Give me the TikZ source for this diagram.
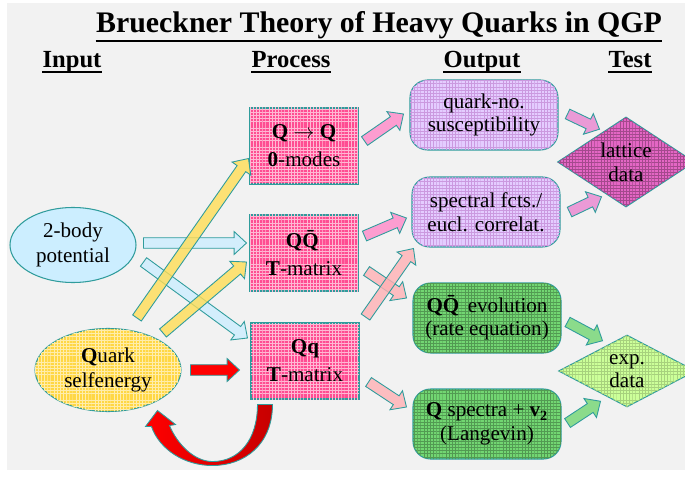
\documentclass[tikz,border=0pt]{standalone}
\usepackage{fontspec}
\setmainfont{Liberation Serif}
\usepackage{xcolor}
\usepackage{tikz}
\usetikzlibrary{shapes.geometric, calc, patterns}

\definecolor{paper}{HTML}{F2F2F2}
\definecolor{rimc}{HTML}{2F9C9C}
\definecolor{procpink}{HTML}{FF4D92}
\definecolor{lilac}{HTML}{E4CCFF}
\definecolor{grass}{HTML}{72D672}
\definecolor{latcol}{HTML}{E466C4}
\definecolor{limey}{HTML}{CCFF99}
\definecolor{sky}{HTML}{CCEEFF}
\definecolor{gold}{HTML}{FFD744}
\definecolor{salmon}{HTML}{FFB0B4}
\definecolor{rose}{HTML}{FF88C8}
\definecolor{sun}{HTML}{FFDD55}

% fine checkered texture of the filled shapes
\pgfdeclarepatternformonly{finegrid}{\pgfqpoint{-0.1pt}{-0.1pt}}{\pgfqpoint{1.9pt}{1.9pt}}{\pgfqpoint{1.8pt}{1.8pt}}{%
  \pgfsetlinewidth{0.3pt}
  \pgfpathmoveto{\pgfqpoint{0pt}{0pt}}\pgfpathlineto{\pgfqpoint{1.8pt}{0pt}}
  \pgfpathmoveto{\pgfqpoint{0pt}{0pt}}\pgfpathlineto{\pgfqpoint{0pt}{1.8pt}}
  \pgfusepath{stroke}}

\newcommand{\pxu}{0.02cm}
% block arrow from coordinate #2 to coordinate #3
\newcommand{\blockarrow}[3][]{%
  \coordinate (hb) at ($(#3)!7pt!(#2)$);
  \path[barrow,#1] ($(#2)!3pt!90:(#3)$) -- ($(hb)!3pt!90:(#3)$) -- ($(hb)!6.5pt!90:(#3)$) -- (#3)
    -- ($(hb)!6.5pt!-90:(#3)$) -- ($(hb)!3pt!-90:(#3)$) -- ($(#2)!3pt!-90:(#3)$) -- cycle;}

\begin{document}
\begin{tikzpicture}[
    x=\pxu, y=-\pxu,
    rim/.style={draw=rimc, line width=0.6pt},
    textured/.style={postaction={pattern=finegrid, pattern color=#1}},
    procbox/.style={rim, rectangle, fill=procpink, textured=procpink!40!white, minimum width=108*\pxu, minimum height=76*\pxu, align=center, inner sep=0pt, font=\fontsize{12}{16}\selectfont},
    outbox/.style={rim, rectangle, rounded corners=10pt, minimum width=148*\pxu, minimum height=70*\pxu, align=center, inner sep=0pt, font=\fontsize{12}{13.5}\selectfont},
    testdia/.style={rim, diamond, minimum width=137*\pxu, minimum height=72*\pxu, align=center, inner sep=0pt, font=\fontsize{12}{13.5}\selectfont},
    inell/.style={rim, ellipse, align=center, inner sep=0pt, font=\fontsize{12}{14}\selectfont},
    head/.style={font=\fontsize{14}{16}\bfseries\selectfont, inner sep=0pt, anchor=base},
    barrow/.style={draw=rimc, line width=0.5pt, fill opacity=0.8}
]
\useasboundingbox (0,0) rectangle (685,479);
\fill[white] (0,0) rectangle (685,479);
\fill[paper] (7,3) rectangle (685,470);

% title and column heads
\node[font=\fontsize{17}{20}\bfseries\selectfont, inner sep=0pt, anchor=base] (title) at (379,33) {Brueckner Theory of Heavy Quarks in QGP};
\draw[line width=1.6pt] ($(title.base west)+(0,8)$) -- ($(title.base east)+(0,8)$);
\foreach \hx/\hname/\htext in {72/hin/Input, 291/hproc/Process, 482/hout/Output, 630/htest/Test}{
  \node[head] (\hname) at (\hx,68) {\htext};
  \draw[line width=1.4pt] ($(\hname.base west)+(0,4)$) -- ($(\hname.base east)+(0,4)$);
}

% input
\node[inell, fill=sky, minimum width=126*\pxu, minimum height=75*\pxu] (pot) at (73,245) {2-body\\potential};
\node[inell, fill=gold, textured=gold!45!white, minimum width=146*\pxu, minimum height=83*\pxu] (qself) at (108,370) {\textbf{Q}uark\\selfenergy};

% process
\node[procbox] (zero) at (304,146) {\textbf{Q} $\rightarrow$ \textbf{Q}\\\textbf{0}-modes};
\node[procbox] (qqbar) at (304,253) {\textbf{Q\=Q}\\\textbf{T}-matrix};
\node[procbox] (qq) at (305,361) {\textbf{Qq}\\\textbf{T}-matrix};

% output
\node[outbox, fill=lilac, textured=violet!25!lilac] (qno) at (484,115) {quark-no.\\susceptibility};
\node[outbox, fill=lilac, textured=violet!25!lilac] (spec) at (486,212) {spectral fcts./\\eucl. correlat.};
\node[outbox, fill=grass, textured=grass!72!black] (evol) at (487,318) {\textbf{Q\=Q} evolution\\(rate equation)};
\node[outbox, fill=grass, textured=grass!72!black] (lgv) at (487,424) {\textbf{Q} spectra + \textbf{v\textsubscript{2}}\\(Langevin)};

% test
\node[testdia, fill=latcol, textured=latcol!72!black] (latt) at (626,162) {lattice\\data};
\node[testdia, fill=limey, textured=limey!82!black] (exp) at (627,371) {exp.\\data};

% input -> process
\coordinate (y1a) at ($(qself.north)+(29,-10)$);
\coordinate (y1b) at ($(zero.south west)+(-1,-26)$);
\coordinate (y2a) at ($(qself.north)+(55,5)$);
\coordinate (y2b) at ($(qqbar.west)+(-3,9)$);
\coordinate (b1a) at ($(pot.east)+(7,-2)$);
\coordinate (b1b) at ($(qqbar.west)+(-3,-10)$);
\coordinate (b2a) at ($(pot.east)+(7,17)$);
\coordinate (b2b) at ($(qq.west)+(-3,-23)$);
\coordinate (r1a) at ($(qself.east)+(9,0)$);
\coordinate (r1b) at ($(qq.west)+(-11,9)$);
\blockarrow[fill=sky]{b1a}{b1b}
\blockarrow[fill=sky]{b2a}{b2b}
\blockarrow[fill=sun]{y1a}{y1b}
\blockarrow[fill=sun]{y2a}{y2b}
\blockarrow[fill=red, fill opacity=1]{r1a}{r1b}

% self-consistency loop
\coordinate (loopA) at ($(qq.south west)+(7,5)$);
\path[draw=rimc, line width=0.5pt, left color=red, right color=red!78!black]
  (loopA) -- ++(15,0) .. controls +(0,40) and +(32,0) .. ++(-60,61)
  .. controls +(-28,0) and +(8,23) .. ++(-61,-39) -- ++(-6,0) -- ++(12,-16) -- ++(18,14) -- ++(-6,1)
  .. controls +(8,19) and +(-18,0) .. ++(43,36)
  .. controls +(27,0) and +(0,35) .. ++(45,-57) -- cycle;

% process -> output
\coordinate (p1a) at ($(zero.east)+(6,-5)$);
\coordinate (p1b) at ($(qno.west)+(-6,-1)$);
\coordinate (p2a) at ($(qqbar.east)+(6,-17)$);
\coordinate (p2b) at ($(spec.west)+(-5,6)$);
\coordinate (p3a) at ($(qqbar.east)+(8,18)$);
\coordinate (p3b) at ($(evol.west)+(-6,-20)$);
\coordinate (p4a) at ($(qq.east)+(6,-44)$);
\coordinate (p4b) at ($(spec.south west)+(2,1)$);
\coordinate (p5a) at ($(qq.east)+(9,21)$);
\coordinate (p5b) at ($(lgv.west)+(-6,-17)$);
\blockarrow[fill=rose]{p1a}{p1b}
\blockarrow[fill=rose]{p2a}{p2b}
\blockarrow[fill=salmon]{p3a}{p3b}
\blockarrow[fill=salmon]{p4a}{p4b}
\blockarrow[fill=salmon]{p5a}{p5b}

% output -> test
\coordinate (t1a) at ($(qno.east)+(9,-1)$);
\coordinate (t1b) at ($(latt.north west)+(8,-10)$);
\coordinate (t2a) at ($(spec.east)+(9,0)$);
\coordinate (t2b) at ($(latt.south west)+(10,12)$);
\coordinate (t3a) at ($(evol.east)+(6,4)$);
\coordinate (t3b) at ($(exp.north west)+(10,-12)$);
\coordinate (t4a) at ($(lgv.east)+(6,-1)$);
\coordinate (t4b) at ($(exp.south west)+(8,12)$);
\blockarrow[fill=latcol!80!white]{t1a}{t1b}
\blockarrow[fill=latcol!80!white]{t2a}{t2b}
\blockarrow[fill=grass]{t3a}{t3b}
\blockarrow[fill=grass]{t4a}{t4b}
\end{tikzpicture}
\end{document}
